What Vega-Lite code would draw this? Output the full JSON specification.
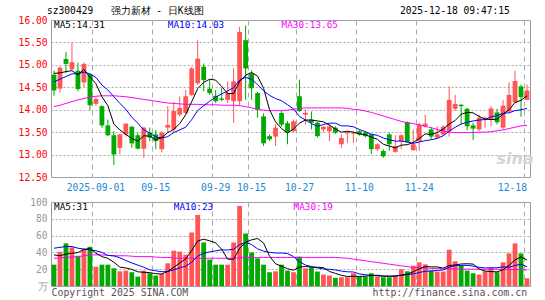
{
"$schema": "https://vega.github.io/schema/vega-lite/v6.json",
"background": "white",
"padding": {"left": 5, "top": 5, "right": 5, "bottom": 0},
"title": {"text": "sz300429\u00a0\u00a0\u00a0强力新材 - 日K线图\u00a0\u00a0\u00a0\u00a0\u00a0\u00a0\u00a0\u00a0\u00a0\u00a0\u00a0\u00a0\u00a0\u00a0\u00a0\u00a0\u00a0\u00a0\u00a0\u00a0\u00a0\u00a0\u00a0\u00a0\u00a0\u00a0\u00a0\u00a0\u00a0\u00a0\u00a0\u00a0\u00a0\u00a02025-12-18 09:47:15", "anchor": "start", "frame": "group", "font": "DejaVu Sans Mono", "fontSize": 9.6, "fontWeight": "normal", "color": "#000000", "offset": -1, "dx": -4},
"spacing": 3,
"data": {"values": [
{"d":"2025-08-21","o":14.78,"h":14.87,"l":14.31,"c":14.43,"v":25.4,"m5":14.81,"m10":14.62,"m30":14.07,"vm5":37,"vm10":45,"vm30":33},
{"d":"2025-08-22","o":14.47,"h":14.96,"l":14.38,"c":14.94,"v":40.8,"m5":14.82,"m10":14.68,"m30":14.10,"vm5":36,"vm10":46,"vm30":33.5},
{"d":"2025-08-25","o":15.13,"h":15.29,"l":14.81,"c":15.02,"v":50.7,"m5":14.85,"m10":14.74,"m30":14.14,"vm5":38,"vm10":47,"vm30":34},
{"d":"2025-08-26","o":14.90,"h":15.49,"l":14.88,"c":15.06,"v":46,"m5":14.87,"m10":14.80,"m30":14.18,"vm5":39,"vm10":47,"vm30":34.5},
{"d":"2025-08-27","o":14.87,"h":15.05,"l":14.41,"c":14.46,"v":36,"m5":14.78,"m10":14.80,"m30":14.22,"vm5":39.8,"vm10":45,"vm30":35},
{"d":"2025-08-28","o":14.61,"h":15.05,"l":14.50,"c":15.02,"v":44,"m5":14.90,"m10":14.84,"m30":14.25,"vm5":43.5,"vm10":44,"vm30":36},
{"d":"2025-08-29","o":14.79,"h":14.81,"l":13.99,"c":14.10,"v":46.7,"m5":14.73,"m10":14.80,"m30":14.28,"vm5":44.7,"vm10":43,"vm30":37},
{"d":"2025-09-01","o":14.13,"h":14.29,"l":14.08,"c":14.24,"v":23,"m5":14.58,"m10":14.72,"m30":14.30,"vm5":39.1,"vm10":42,"vm30":37},
{"d":"2025-09-02","o":14.08,"h":14.10,"l":13.60,"c":13.65,"v":25.4,"m5":14.29,"m10":14.55,"m30":14.31,"vm5":35,"vm10":40,"vm30":37},
{"d":"2025-09-03","o":13.65,"h":13.78,"l":13.41,"c":13.43,"v":25.4,"m5":14.09,"m10":14.44,"m30":14.31,"vm5":32.9,"vm10":36.4,"vm30":36.5},
{"d":"2025-09-04","o":13.43,"h":13.52,"l":12.77,"c":13.00,"v":21,"m5":13.68,"m10":14.29,"m30":14.31,"vm5":28.3,"vm10":35.9,"vm30":36},
{"d":"2025-09-05","o":13.15,"h":13.45,"l":13.00,"c":13.45,"v":17.5,"m5":13.55,"m10":14.14,"m30":14.30,"vm5":22.5,"vm10":33.6,"vm30":36},
{"d":"2025-09-08","o":13.45,"h":13.69,"l":13.40,"c":13.69,"v":18.3,"m5":13.45,"m10":14.01,"m30":14.29,"vm5":21.5,"vm10":30.3,"vm30":36},
{"d":"2025-09-09","o":13.62,"h":13.64,"l":13.15,"c":13.25,"v":16.4,"m5":13.36,"m10":13.83,"m30":14.27,"vm5":19.7,"vm10":27.4,"vm30":35.5},
{"d":"2025-09-10","o":13.43,"h":13.49,"l":13.12,"c":13.13,"v":11.2,"m5":13.30,"m10":13.70,"m30":14.25,"vm5":16.9,"vm10":24.9,"vm30":35},
{"d":"2025-09-11","o":13.13,"h":13.62,"l":12.93,"c":13.60,"v":18.3,"m5":13.42,"m10":13.55,"m30":14.23,"vm5":16.3,"vm10":22.3,"vm30":35},
{"d":"2025-09-12","o":13.49,"h":13.60,"l":13.30,"c":13.38,"v":15.2,"m5":13.41,"m10":13.48,"m30":14.21,"vm5":15.9,"vm10":19.2,"vm30":35},
{"d":"2025-09-15","o":13.45,"h":13.55,"l":13.12,"c":13.30,"v":12.4,"m5":13.33,"m10":13.39,"m30":14.19,"vm5":14.7,"vm10":18.1,"vm30":34.5},
{"d":"2025-09-16","o":13.12,"h":13.52,"l":13.05,"c":13.49,"v":14.4,"m5":13.38,"m10":13.37,"m30":14.17,"vm5":14.3,"vm10":17,"vm30":34},
{"d":"2025-09-17","o":13.60,"h":14.08,"l":13.49,"c":13.66,"v":27,"m5":13.49,"m10":13.40,"m30":14.15,"vm5":17.5,"vm10":17.2,"vm30":34},
{"d":"2025-09-18","o":13.56,"h":14.18,"l":13.50,"c":13.97,"v":42,"m5":13.56,"m10":13.49,"m30":14.14,"vm5":22.2,"vm10":19.3,"vm30":33.5},
{"d":"2025-09-19","o":13.89,"h":14.30,"l":13.85,"c":14.04,"v":41,"m5":13.69,"m10":13.55,"m30":14.13,"vm5":27.4,"vm10":21.7,"vm30":33},
{"d":"2025-09-22","o":13.93,"h":14.44,"l":13.90,"c":14.30,"v":37.3,"m5":13.89,"m10":13.61,"m30":14.12,"vm5":32.3,"vm10":23.5,"vm30":33},
{"d":"2025-09-23","o":14.33,"h":14.96,"l":14.30,"c":14.92,"v":63.7,"m5":14.18,"m10":13.78,"m30":14.12,"vm5":42.2,"vm10":28.3,"vm30":33},
{"d":"2025-09-24","o":14.59,"h":15.55,"l":14.55,"c":15.14,"v":84.6,"m5":14.47,"m10":13.98,"m30":14.12,"vm5":53.7,"vm10":35.6,"vm30":33},
{"d":"2025-09-25","o":14.96,"h":15.03,"l":14.41,"c":14.66,"v":51.8,"m5":14.61,"m10":14.09,"m30":14.11,"vm5":55.7,"vm10":39,"vm30":33},
{"d":"2025-09-26","o":14.47,"h":14.67,"l":14.33,"c":14.37,"v":31.4,"m5":14.68,"m10":14.19,"m30":14.11,"vm5":53.8,"vm10":40.6,"vm30":33},
{"d":"2025-09-29","o":14.31,"h":14.44,"l":14.15,"c":14.19,"v":25.4,"m5":14.66,"m10":14.28,"m30":14.11,"vm5":51.4,"vm10":41.9,"vm30":33},
{"d":"2025-09-30","o":14.25,"h":14.48,"l":14.19,"c":14.22,"v":25.4,"m5":14.52,"m10":14.35,"m30":14.10,"vm5":43.7,"vm10":43,"vm30":33},
{"d":"2025-10-09","o":14.22,"h":14.63,"l":14.15,"c":14.37,"v":25.4,"m5":14.36,"m10":14.42,"m30":14.10,"vm5":31.9,"vm10":42.8,"vm30":33},
{"d":"2025-10-10","o":14.19,"h":14.92,"l":13.71,"c":14.63,"v":51.8,"m5":14.36,"m10":14.49,"m30":14.10,"vm5":31.9,"vm10":43.8,"vm30":33},
{"d":"2025-10-13","o":14.19,"h":15.85,"l":14.08,"c":15.73,"v":95.3,"m5":14.63,"m10":14.66,"m30":14.09,"vm5":44.7,"vm10":49.3,"vm30":33.5},
{"d":"2025-10-14","o":15.55,"h":15.88,"l":14.22,"c":14.92,"v":62.5,"m5":14.77,"m10":14.72,"m30":14.07,"vm5":52.1,"vm10":51.8,"vm30":34},
{"d":"2025-10-15","o":14.81,"h":14.88,"l":14.22,"c":14.48,"v":40,"m5":14.83,"m10":14.68,"m30":14.04,"vm5":55,"vm10":49.4,"vm30":34},
{"d":"2025-10-16","o":14.37,"h":14.40,"l":13.82,"c":14.00,"v":33,"m5":14.75,"m10":14.56,"m30":14.01,"vm5":56.5,"vm10":44.2,"vm30":34},
{"d":"2025-10-17","o":13.85,"h":13.92,"l":13.19,"c":13.25,"v":25.4,"m5":14.48,"m10":14.42,"m30":13.99,"vm5":51.2,"vm10":41.6,"vm30":34},
{"d":"2025-10-20","o":13.41,"h":13.45,"l":13.30,"c":13.34,"v":16.4,"m5":14.00,"m10":14.32,"m30":13.98,"vm5":35.5,"vm10":40.1,"vm30":34},
{"d":"2025-10-21","o":13.40,"h":13.67,"l":13.19,"c":13.60,"v":17.5,"m5":13.73,"m10":14.25,"m30":13.98,"vm5":26.5,"vm10":39.3,"vm30":34},
{"d":"2025-10-22","o":13.93,"h":13.97,"l":13.62,"c":13.67,"v":25.4,"m5":13.58,"m10":14.20,"m30":13.98,"vm5":23.5,"vm10":39.3,"vm30":34},
{"d":"2025-10-23","o":13.70,"h":13.75,"l":13.23,"c":13.50,"v":18.3,"m5":13.48,"m10":14.11,"m30":13.99,"vm5":20.6,"vm10":38.6,"vm30":34},
{"d":"2025-10-24","o":13.52,"h":13.78,"l":13.50,"c":13.74,"v":16.4,"m5":13.57,"m10":14.02,"m30":14.01,"vm5":18.8,"vm10":35,"vm30":34},
{"d":"2025-10-27","o":14.30,"h":14.67,"l":13.95,"c":13.97,"v":35,"m5":13.70,"m10":13.85,"m30":14.03,"vm5":22.5,"vm10":29,"vm30":34},
{"d":"2025-10-28","o":13.89,"h":14.00,"l":13.67,"c":13.93,"v":21,"m5":13.77,"m10":13.77,"m30":14.04,"vm5":23.2,"vm10":24.9,"vm30":34},
{"d":"2025-10-29","o":13.78,"h":13.96,"l":13.56,"c":13.71,"v":22.3,"m5":13.77,"m10":13.69,"m30":14.04,"vm5":22.6,"vm10":23.1,"vm30":34},
{"d":"2025-10-30","o":13.71,"h":13.73,"l":13.38,"c":13.41,"v":17.2,"m5":13.75,"m10":13.63,"m30":14.04,"vm5":22.4,"vm10":21.5,"vm30":34},
{"d":"2025-10-31","o":13.56,"h":13.64,"l":13.50,"c":13.62,"v":13.6,"m5":13.73,"m10":13.67,"m30":14.04,"vm5":21.8,"vm10":20.3,"vm30":34},
{"d":"2025-11-03","o":13.52,"h":13.66,"l":13.30,"c":13.63,"v":12.4,"m5":13.66,"m10":13.70,"m30":14.04,"vm5":17.3,"vm10":19.9,"vm30":34},
{"d":"2025-11-04","o":13.60,"h":13.63,"l":13.46,"c":13.49,"v":9.7,"m5":13.57,"m10":13.70,"m30":14.04,"vm5":15,"vm10":19.1,"vm30":34},
{"d":"2025-11-05","o":13.23,"h":13.45,"l":13.15,"c":13.37,"v":10.4,"m5":13.50,"m10":13.64,"m30":14.04,"vm5":12.7,"vm10":17.7,"vm30":33.5},
{"d":"2025-11-06","o":13.47,"h":13.52,"l":13.26,"c":13.50,"v":10.4,"m5":13.52,"m10":13.64,"m30":14.03,"vm5":11.3,"vm10":16.9,"vm30":33},
{"d":"2025-11-07","o":13.47,"h":13.51,"l":13.26,"c":13.49,"v":15.2,"m5":13.50,"m10":13.62,"m30":14.01,"vm5":11.6,"vm10":16.7,"vm30":32},
{"d":"2025-11-10","o":13.52,"h":13.55,"l":13.42,"c":13.45,"v":11.2,"m5":13.46,"m10":13.56,"m30":14.00,"vm5":11.4,"vm10":14.4,"vm30":31},
{"d":"2025-11-11","o":13.49,"h":13.52,"l":13.38,"c":13.41,"v":11.2,"m5":13.44,"m10":13.51,"m30":13.97,"vm5":11.7,"vm10":13.4,"vm30":30},
{"d":"2025-11-12","o":13.45,"h":13.47,"l":13.01,"c":13.12,"v":15.2,"m5":13.39,"m10":13.45,"m30":13.94,"vm5":12.6,"vm10":12.7,"vm30":29},
{"d":"2025-11-13","o":13.12,"h":13.25,"l":13.08,"c":13.23,"v":11.2,"m5":13.34,"m10":13.43,"m30":13.90,"vm5":12.8,"vm10":12.1,"vm30":28},
{"d":"2025-11-14","o":13.08,"h":13.12,"l":12.93,"c":12.96,"v":10.4,"m5":13.23,"m10":13.37,"m30":13.86,"vm5":11.8,"vm10":11.7,"vm30":27},
{"d":"2025-11-17","o":13.45,"h":13.49,"l":13.08,"c":13.23,"v":10.4,"m5":13.19,"m10":13.33,"m30":13.82,"vm5":11.7,"vm10":11.6,"vm30":26},
{"d":"2025-11-18","o":13.06,"h":13.43,"l":13.04,"c":13.19,"v":12.4,"m5":13.15,"m10":13.30,"m30":13.78,"vm5":11.9,"vm10":11.8,"vm30":25},
{"d":"2025-11-19","o":13.30,"h":13.45,"l":13.12,"c":13.43,"v":19.9,"m5":13.21,"m10":13.30,"m30":13.74,"vm5":12.9,"vm10":12.8,"vm30":24},
{"d":"2025-11-20","o":13.72,"h":13.74,"l":13.26,"c":13.28,"v":17.5,"m5":13.22,"m10":13.28,"m30":13.71,"vm5":14.1,"vm10":13.5,"vm30":23},
{"d":"2025-11-21","o":13.10,"h":13.56,"l":13.08,"c":13.23,"v":24.2,"m5":13.27,"m10":13.25,"m30":13.69,"vm5":16.9,"vm10":14.4,"vm30":22},
{"d":"2025-11-24","o":13.30,"h":13.71,"l":13.08,"c":13.67,"v":28.2,"m5":13.36,"m10":13.28,"m30":13.66,"vm5":20.4,"vm10":16.1,"vm30":22},
{"d":"2025-11-25","o":13.63,"h":13.89,"l":13.60,"c":13.69,"v":25.8,"m5":13.46,"m10":13.31,"m30":13.63,"vm5":23.1,"vm10":17.5,"vm30":21.5},
{"d":"2025-11-26","o":13.56,"h":13.61,"l":13.34,"c":13.40,"v":18.3,"m5":13.45,"m10":13.33,"m30":13.60,"vm5":22.8,"vm10":17.9,"vm30":21},
{"d":"2025-11-27","o":13.38,"h":13.63,"l":13.35,"c":13.45,"v":17.2,"m5":13.49,"m10":13.36,"m30":13.56,"vm5":22.7,"vm10":18.4,"vm30":21},
{"d":"2025-11-28","o":13.45,"h":13.65,"l":13.41,"c":13.62,"v":17.2,"m5":13.57,"m10":13.42,"m30":13.53,"vm5":21.3,"vm10":19.1,"vm30":20.5},
{"d":"2025-12-01","o":13.52,"h":14.52,"l":13.40,"c":14.22,"v":43.2,"m5":13.68,"m10":13.52,"m30":13.50,"vm5":24.3,"vm10":22.4,"vm30":20.5},
{"d":"2025-12-02","o":14.02,"h":14.33,"l":13.97,"c":14.13,"v":29.4,"m5":13.76,"m10":13.61,"m30":13.49,"vm5":25.1,"vm10":24.1,"vm30":20.5},
{"d":"2025-12-03","o":14.11,"h":14.13,"l":13.67,"c":14.08,"v":24.2,"m5":13.90,"m10":13.68,"m30":13.49,"vm5":26.2,"vm10":24.5,"vm30":20},
{"d":"2025-12-04","o":14.02,"h":14.04,"l":13.54,"c":13.63,"v":18.3,"m5":13.94,"m10":13.72,"m30":13.49,"vm5":26.5,"vm10":24.6,"vm30":20},
{"d":"2025-12-05","o":13.65,"h":13.71,"l":13.32,"c":13.58,"v":15.2,"m5":13.93,"m10":13.75,"m30":13.49,"vm5":26.1,"vm10":23.7,"vm30":20},
{"d":"2025-12-08","o":13.56,"h":13.89,"l":13.52,"c":13.82,"v":13.6,"m5":13.85,"m10":13.77,"m30":13.50,"vm5":20.1,"vm10":22.2,"vm30":20},
{"d":"2025-12-09","o":13.78,"h":13.85,"l":13.60,"c":13.82,"v":17.5,"m5":13.79,"m10":13.78,"m30":13.50,"vm5":17.8,"vm10":21.5,"vm30":20},
{"d":"2025-12-10","o":13.78,"h":14.08,"l":13.63,"c":14.03,"v":21.5,"m5":13.78,"m10":13.84,"m30":13.51,"vm5":17.2,"vm10":21.7,"vm30":20},
{"d":"2025-12-11","o":13.94,"h":14.02,"l":13.67,"c":13.72,"v":16.4,"m5":13.79,"m10":13.87,"m30":13.53,"vm5":16.8,"vm10":21.7,"vm30":20},
{"d":"2025-12-12","o":13.60,"h":14.22,"l":13.56,"c":14.09,"v":28.2,"m5":13.90,"m10":13.92,"m30":13.55,"vm5":19.4,"vm10":22.8,"vm30":19.5},
{"d":"2025-12-15","o":13.96,"h":14.61,"l":13.94,"c":14.33,"v":38.8,"m5":14.00,"m10":13.93,"m30":13.58,"vm5":24.5,"vm10":22.3,"vm30":19.5},
{"d":"2025-12-16","o":14.16,"h":14.87,"l":14.16,"c":14.64,"v":50.7,"m5":14.16,"m10":13.98,"m30":13.61,"vm5":31.1,"vm10":24.5,"vm30":19.5},
{"d":"2025-12-17","o":14.52,"h":14.56,"l":13.84,"c":14.28,"v":38.8,"m5":14.21,"m10":14.00,"m30":13.64,"vm5":34.6,"vm10":25.9,"vm30":19.5},
{"d":"2025-12-18","o":14.22,"h":14.56,"l":14.22,"c":14.43,"v":9.2,"m5":14.31,"m10":14.03,"m30":13.65,"vm5":31,"vm10":23,"vm30":19}
]},
"vconcat": [
{
"width": 479, "height": 157,
"encoding": {"x": {"field": "d", "type": "ordinal", "scale": {"paddingInner": 0, "paddingOuter": 0},
  "axis": {"values": ["2025-09-01","2025-09-15","2025-09-29","2025-10-15","2025-10-27","2025-11-10","2025-11-24","2025-12-18"],
    "labelExpr": "datum.value == '2025-09-01' ? datum.value : substring(datum.value, 5)",
    "labelColor": "#1a8ad4", "labelFont": "DejaVu Sans Mono", "labelFontSize": 9.7, "labelPadding": 5, "labelAngle": 0,
    "labelFlush": 8, "labelOverlap": false, "ticks": false, "domain": false, "grid": true, "gridColor": "#aaaaaa", "gridDash": [5,4],
    "bandPosition": 0, "title": null, "minExtent": 14, "maxExtent": 14}}},
"layer": [
 {"data": {"values": [{"d": "2025-12-16", "t": "sina", "p": 12.9}]},
  "mark": {"type": "text", "align": "center", "baseline": "middle", "font": "DejaVu Sans", "fontSize": 16, "fontWeight": "bold", "fontStyle": "italic", "color": "#d4d4d4"},
  "encoding": {"y": {"field": "p", "type": "quantitative"}, "text": {"field": "t"}}},
 {"mark": {"type": "rule", "strokeWidth": 1},
  "encoding": {"y": {"field": "l", "type": "quantitative", "scale": {"domain": [12.5,16], "nice": false, "zero": false},
     "axis": {"values": [12.5,13,13.5,14,14.5,15,15.5,16], "tickCount": 20, "format": ".2f", "labelColor": "#ff0000", "labelFont": "DejaVu Sans Mono", "labelFontSize": 9.6,
       "labelPadding": 4, "labelOverlap": false, "ticks": false, "domain": false, "grid": true, "gridColor": "#aaaaaa", "gridDash": [2,2],
       "title": null, "minExtent": 45, "maxExtent": 45}},
   "y2": {"field": "h"},
   "color": {"condition": {"test": "datum.c >= datum.o", "value": "#ff5555"}, "value": "#00aa00"}}},
 {"mark": {"type": "bar", "width": {"band": 0.8}},
  "encoding": {"y": {"field": "o", "type": "quantitative"}, "y2": {"field": "c"},
   "color": {"condition": {"test": "datum.c >= datum.o", "value": "#ff5555"}, "value": "#00aa00"}}},
 {"mark": {"type": "line", "color": "#ff00ff", "strokeWidth": 1}, "encoding": {"y": {"field": "m30", "type": "quantitative"}}},
 {"mark": {"type": "line", "color": "#0000ff", "strokeWidth": 1}, "encoding": {"y": {"field": "m10", "type": "quantitative"}}},
 {"mark": {"type": "line", "color": "#000000", "strokeWidth": 1}, "encoding": {"y": {"field": "m5", "type": "quantitative"}}},
 {"data": {"values": [{"d": "2025-08-21", "t": "MA5:14.31", "k": "MA5", "p": 16}, {"d": "2025-09-17", "t": "MA10:14.03", "k": "MA10", "p": 16}, {"d": "2025-10-22", "t": "MA30:13.65", "k": "MA30", "p": 16}]},
  "mark": {"type": "text", "align": "left", "baseline": "top", "dy": 1, "font": "DejaVu Sans Mono", "fontSize": 9.4},
  "encoding": {"y": {"field": "p", "type": "quantitative"}, "text": {"field": "t"},
   "color": {"field": "k", "type": "nominal", "scale": {"domain": ["MA5","MA10","MA30"], "range": ["#000000","#0000ff","#ff00ff"]}, "legend": null}}}
]
},
{
"width": 479, "height": 84,
"encoding": {"x": {"field": "d", "type": "ordinal", "scale": {"paddingInner": 0, "paddingOuter": 0},
  "axis": {"values": ["2025-09-01","2025-09-15","2025-09-29","2025-10-15","2025-10-27","2025-11-10","2025-11-24","2025-12-18"],
    "labels": false, "ticks": false, "domain": false, "grid": true, "gridColor": "#aaaaaa", "gridDash": [5,4], "bandPosition": 0,
    "title": "Copyright 2025 SINA.COM\u00a0\u00a0\u00a0\u00a0\u00a0\u00a0\u00a0\u00a0\u00a0\u00a0\u00a0\u00a0\u00a0\u00a0\u00a0\u00a0\u00a0\u00a0\u00a0\u00a0\u00a0\u00a0\u00a0\u00a0\u00a0\u00a0\u00a0\u00a0\u00a0\u00a0\u00a0http://finance.sina.com.cn",
    "titleFont": "DejaVu Sans Mono", "titleFontSize": 9.9, "titleFontWeight": "normal", "titleColor": "#555555", "titleAnchor": "start", "titleAlign": "left", "titlePadding": 1}}},
"layer": [
 {"mark": {"type": "bar", "width": {"band": 0.8}},
  "encoding": {"y": {"field": "v", "type": "quantitative", "scale": {"domain": [0,100], "nice": false},
     "axis": {"values": [0,20,40,60,80,100], "tickCount": 20, "labelExpr": "datum.value == 0 ? '万' : datum.label", "labelColor": "#999999", "labelFont": "DejaVu Sans Mono", "labelFontSize": 9.6,
       "labelPadding": 4, "labelOverlap": false, "ticks": false, "domain": false, "grid": true, "gridColor": "#aaaaaa", "gridDash": [2,2],
       "title": null, "minExtent": 45, "maxExtent": 45}},
   "color": {"condition": {"test": "datum.c >= datum.o", "value": "#ff5555"}, "value": "#00aa00"}}},
 {"mark": {"type": "line", "color": "#ff00ff", "strokeWidth": 1}, "encoding": {"y": {"field": "vm30", "type": "quantitative"}}},
 {"mark": {"type": "line", "color": "#0000ff", "strokeWidth": 1}, "encoding": {"y": {"field": "vm10", "type": "quantitative"}}},
 {"mark": {"type": "line", "color": "#000000", "strokeWidth": 1}, "encoding": {"y": {"field": "vm5", "type": "quantitative"}}},
 {"data": {"values": [{"d": "2025-08-21", "t": "MA5:31", "k": "MA5", "p": 100}, {"d": "2025-09-18", "t": "MA10:23", "k": "MA10", "p": 100}, {"d": "2025-10-24", "t": "MA30:19", "k": "MA30", "p": 100}]},
  "mark": {"type": "text", "align": "left", "baseline": "top", "dy": 1, "font": "DejaVu Sans Mono", "fontSize": 9.4},
  "encoding": {"y": {"field": "p", "type": "quantitative"}, "text": {"field": "t"},
   "color": {"field": "k", "type": "nominal", "scale": {"domain": ["MA5","MA10","MA30"], "range": ["#000000","#0000ff","#ff00ff"]}, "legend": null}}}
]
}
],
"config": {"view": {"stroke": "#999999", "strokeWidth": 1}, "font": "DejaVu Sans Mono", "axis": {"labelOverlap": false}}
}
